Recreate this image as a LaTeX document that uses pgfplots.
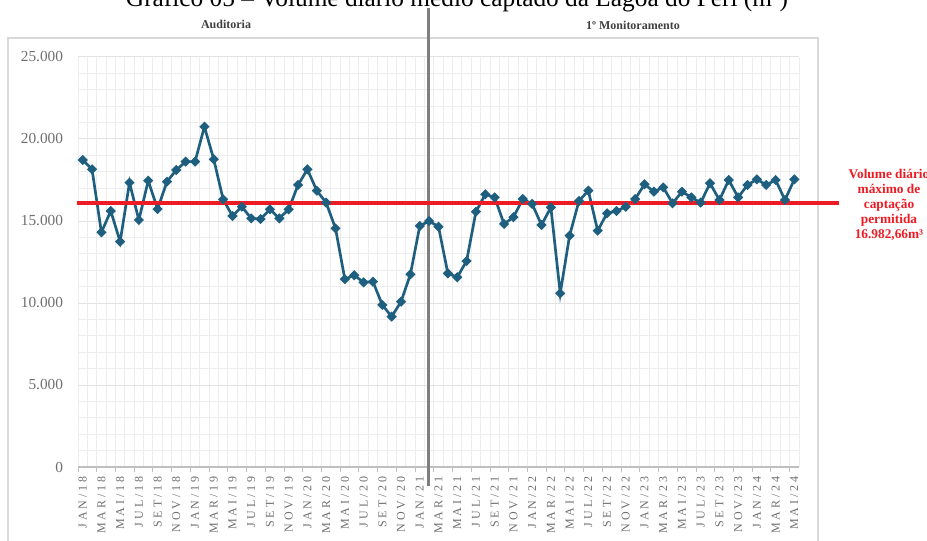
\documentclass[border=0pt]{standalone}
\usepackage{pgfplots}
\pgfplotsset{compat=1.18}
\usepackage{fontspec}
\setmainfont{Liberation Serif}
\newfontfamily\spaced[LetterSpace=24]{Liberation Serif}
\definecolor{serie}{HTML}{1E5F80}
\definecolor{vermelho}{HTML}{ED1C24}
\definecolor{cinza}{HTML}{7F7F7F}
\definecolor{framec}{HTML}{D9D9D9}
\definecolor{gridmaj}{HTML}{E3E3E3}
\definecolor{gridmin}{HTML}{EDEDED}
\definecolor{axisc}{HTML}{BFBFBF}
\definecolor{ticklab}{HTML}{707070}
\definecolor{lab}{HTML}{404040}
\begin{document}
\begin{tikzpicture}[x=0.75pt,y=-0.75pt]
\path[use as bounding box, clip] (0,0) rectangle (927,541);
\fill[white] (0,0) rectangle (927,541);
\draw[framec, line width=1.1pt] (8,38) rectangle (818,600);
\node[anchor=base, inner sep=0pt, font=\fontsize{19}{19}\selectfont] at (457,7) {Gráfico 05 – Volume diário médio captado da Lagoa do Peri (m³)};
\node[font=\bfseries\fontsize{9}{9}\selectfont, text=lab] at (226,24) {Auditoria};
\node[font=\bfseries\fontsize{9}{9}\selectfont, text=lab] at (633,25) {1º Monitoramento};
\node[align=center, text=vermelho, font=\bfseries\fontsize{10}{11.25}\selectfont] at (889,205) {Volume diário\\máximo de\\captação\\permitida\\16.982,66m³};
\begin{axis}[
  at={(58.5pt,-350.25pt)}, anchor=south west,
  scale only axis, width=540.75pt, height=307.5pt,
  xmin=-0.5, xmax=76.5, ymin=0, ymax=25000,
  clip=false,
  scaled y ticks=false,
  axis line style={draw=none},
  xtick pos=lower, ytick pos=left,
  xtick={0,2,...,76},
  xticklabels={JAN/18,MAR/18,MAI/18,JUL/18,SET/18,NOV/18,
               JAN/19,MAR/19,MAI/19,JUL/19,SET/19,NOV/19,
               JAN/20,MAR/20,MAI/20,JUL/20,SET/20,NOV/20,
               JAN/21,MAR/21,MAI/21,JUL/21,SET/21,NOV/21,
               JAN/22,MAR/22,MAI/22,JUL/22,SET/22,NOV/22,
               JAN/23,MAR/23,MAI/23,JUL/23,SET/23,NOV/23,
               JAN/24,MAR/24,MAI/24},
  minor xtick={-0.5,0.5,...,76.5},
  ytick={0,5000,...,25000},
  yticklabels={0,5.000,10.000,15.000,20.000,25.000},
  minor ytick={1000,2000,...,24000},
  xmajorgrids=false, xminorgrids=true,
  ymajorgrids=true, yminorgrids=true,
  major grid style={gridmaj, line width=0.75pt},
  minor grid style={gridmin, line width=0.75pt},
  major tick length=0pt, minor tick length=0pt,
  extra x ticks={-0.5,1.5,...,76.5},
  extra x tick labels={},
  extra x tick style={xmajorgrids=false, major tick length=4pt, tick align=outside, tick style={axisc, line width=0.75pt}},
  xticklabel style={yshift=-7pt, rotate=90, anchor=east, inner sep=0pt, font=\spaced\fontsize{9}{9}\selectfont, text=ticklab},
  yticklabel style={inner sep=0pt, xshift=-11pt, font=\fontsize{11.5}{11.5}\selectfont, text=ticklab},
]
\addplot[serie, line width=2pt, mark=square*, mark size=2.3pt, mark options={rotate=45, solid, line width=0.8pt}] coordinates {
(0,18720) (1,18150) (2,14310) (3,15610) (4,13740) (5,17340) (6,15060) (7,17460)
(8,15730) (9,17400) (10,18110) (11,18620) (12,18620) (13,20750) (14,18760) (15,16320)
(16,15300) (17,15870) (18,15160) (19,15120) (20,15710) (21,15160) (22,15710) (23,17200)
(24,18150) (25,16850) (26,16120) (27,14550) (28,11450) (29,11690) (30,11260) (31,11300)
(32,9880) (33,9170) (34,10080) (35,11750) (36,14700) (37,15000) (38,14650) (39,11810)
(40,11570) (41,12560) (42,15570) (43,16630) (44,16440) (45,14820) (46,15230) (47,16340)
(48,16040) (49,14760) (50,15830) (51,10590) (52,14110) (53,16220) (54,16850) (55,14410)
(56,15470) (57,15610) (58,15870) (59,16340) (60,17240) (61,16790) (62,17050) (63,16080)
(64,16790) (65,16440) (66,16120) (67,17300) (68,16280) (69,17500) (70,16440) (71,17200)
(72,17540) (73,17200) (74,17500) (75,16280) (76,17540)
};
\draw[axisc, line width=0.9pt] (axis cs:-0.5,0) -- (axis cs:76.5,0);
\draw[cinza, line width=2.2pt] (axis cs:36.97,27990) -- (axis cs:36.97,-1160);
\addplot[vermelho, line width=3pt] coordinates {(-0.61,16120) (80.77,16120)};
\end{axis}
\end{tikzpicture}
\end{document}
